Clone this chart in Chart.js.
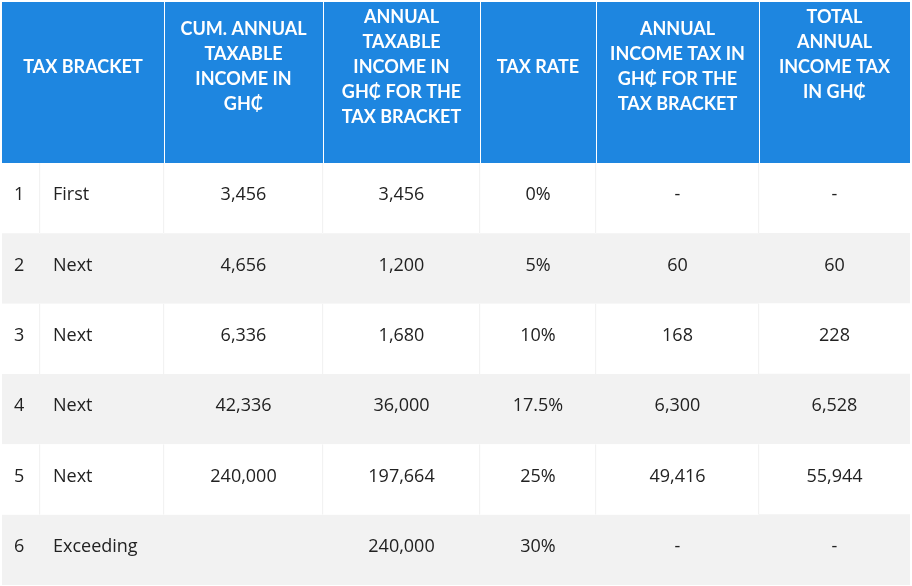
<!DOCTYPE html>
<html>
<head>
<meta charset="utf-8">
<script src="https://cdn.jsdelivr.net/npm/chart.js@4.4.1/dist/chart.umd.min.js"></script>
<style>
  body { margin: 0; background: #ffffff; }
  #wrap { width: 912px; height: 586px; }
</style>
</head>
<body>
<div id="wrap"><canvas id="chart" width="912" height="586"></canvas></div>
<script>
// Tabellendaten
const rowNumbers = ['1', '2', '3', '4', '5', '6'];
const brackets = ['First', 'Next', 'Next', 'Next', 'Next', 'Exceeding'];
const cumIncome = [3456, 4656, 6336, 42336, 240000, null];
const bracketIncome = [3456, 1200, 1680, 36000, 197664, 240000];
const taxRates = [0, 5, 10, 17.5, 25, 30];
const bracketTax = [null, 60, 168, 6300, 49416, null];
const totalTax = [null, 60, 228, 6528, 55944, null];

// Kopfzeilen (Spalte 0+1 zusammengefasst)
const headers = [
    ['TAX BRACKET'],
    ['CUM. ANNUAL', 'TAXABLE', 'INCOME IN', 'GH₵'],
    ['ANNUAL', 'TAXABLE', 'INCOME IN', 'GH₵ FOR THE', 'TAX BRACKET'],
    ['TAX RATE'],
    ['ANNUAL', 'INCOME TAX IN', 'GH₵ FOR THE', 'TAX BRACKET'],
    ['TOTAL', 'ANNUAL', 'INCOME TAX', 'IN GH₵', '']
];

// Layout
const colWidths = [38, 124, 159, 157, 116, 163, 151];
const blue = '#1e86e0';
const grey = '#f2f2f2';
const lineGrey = '#ececec';
const textColor = '#222222';

function fmtNum(v) {
    return v === null ? '' : v.toLocaleString('en-US');
}
function fmtTax(v) {
    return v === null ? '-' : v.toLocaleString('en-US');
}

const columns = [
    rowNumbers,
    brackets,
    cumIncome.map(fmtNum),
    bracketIncome.map(fmtNum),
    taxRates.map(v => v + '%'),
    bracketTax.map(fmtTax),
    totalTax.map(fmtTax)
];

const datasets = colWidths.map((w, i) => ({
    label: 'col' + i,
    data: rowNumbers.map(() => w),
    backgroundColor: c => (c.dataIndex % 2 ? grey : '#ffffff'),
    borderColor: c => (c.dataIndex % 2 ? grey : lineGrey),
    borderWidth: i < colWidths.length - 1 ? { top: 0, bottom: 0, left: 0, right: 1 } : 0,
    borderSkipped: false,
    barPercentage: 1,
    categoryPercentage: 1
}));

// Plugin: Kopfzeile und Zelltexte
const tablePlugin = {
    id: 'tablePlugin',
    afterDatasetsDraw(chart) {
        const ctx = chart.ctx;
        const x = chart.scales.x;
        const area = chart.chartArea;
        const top = 2;

        // Spaltengrenzen über die x-Achse
        const edges = [0];
        colWidths.forEach(w => edges.push(edges[edges.length - 1] + w));
        const px = edges.map(e => x.getPixelForValue(e));

        ctx.save();
        ctx.fillStyle = blue;
        ctx.fillRect(px[0], top, px[px.length - 1] - px[0], area.top - top);

        // weiße Trennlinien im Kopf
        ctx.fillStyle = '#ffffff';
        for (let k = 2; k < px.length - 1; k++) {
            ctx.fillRect(Math.round(px[k]), top, 1, area.top - top);
        }

        // Kopftexte
        const headerEdges = [[px[0], px[2]]];
        for (let k = 2; k < px.length - 1; k++) headerEdges.push([px[k], px[k + 1]]);
        ctx.font = 'bold 18px Lato';
        ctx.textAlign = 'center';
        ctx.textBaseline = 'middle';
        const mid = 67;
        const lh = 25;
        headers.forEach((lines, k) => {
            const cx = (headerEdges[k][0] + headerEdges[k][1]) / 2;
            const y0 = mid - (lines.length - 1) * lh / 2;
            lines.forEach((t, n) => ctx.fillText(t, cx, y0 + n * lh));
        });

        // Zelltexte
        ctx.font = '18px "Open Sans"';
        ctx.fillStyle = textColor;
        chart.data.datasets.forEach((ds, i) => {
            chart.getDatasetMeta(i).data.forEach((bar, j) => {
                const left = Math.min(bar.base, bar.x);
                const right = Math.max(bar.base, bar.x);
                const y = bar.y - 3;
                const t = columns[i][j];
                if (i === 0) {
                    ctx.textAlign = 'left';
                    ctx.fillText(t, left + 12, y);
                } else if (i === 1) {
                    ctx.textAlign = 'left';
                    ctx.fillText(t, left + 13, y);
                } else {
                    ctx.textAlign = 'center';
                    ctx.fillText(t, (left + right) / 2, y);
                }
            });
        });
        ctx.restore();
    }
};

const chart = new Chart(document.getElementById('chart').getContext('2d'), {
    type: 'bar',
    data: { labels: rowNumbers, datasets: datasets },
    options: {
        indexAxis: 'y',
        animation: false,
        responsive: false,
        devicePixelRatio: 1,
        layout: { padding: { top: 163, left: 2, right: 2, bottom: 1 } },
        plugins: { legend: { display: false }, tooltip: { enabled: false } },
        scales: {
            x: { type: 'linear', stacked: true, min: 0, max: colWidths.reduce((a, b) => a + b, 0), display: false },
            y: { stacked: true, display: false }
        }
    },
    plugins: [tablePlugin]
});
</script>
</body>
</html>
